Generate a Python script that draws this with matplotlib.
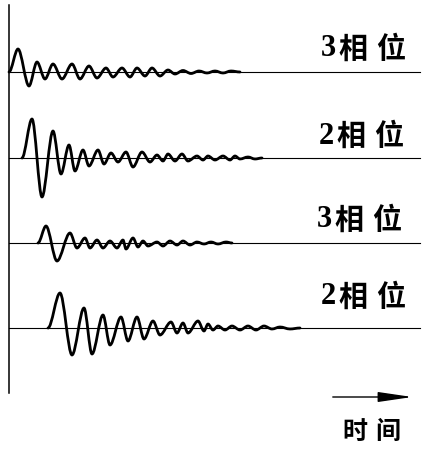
import matplotlib
matplotlib.use('Agg')
import matplotlib.pyplot as plt
from matplotlib.path import Path
from matplotlib.patches import PathPatch, FancyArrowPatch

plt.rcParams['font.family'] = ['Noto Sans CJK SC', 'DejaVu Sans']

# 各道波形的极值点（时间, 振幅）
t_1 = [0, 9, 20, 28, 36, 44, 53, 63, 71, 80, 88, 97, 104, 113, 121, 128, 136,
       143, 151, 159, 166, 174, 182, 190, 198, 206, 214, 222, 231]
a_1 = [0, 23, -14, 10, -7, 8, -7, 8, -7, 6, -6, 4, -5, 4, -5, 4, -4,
       4, -4, 2, -2, 1.5, -1.5, 1, -1, 1, -1, 1, 0]

t_2 = [13, 23, 33, 44, 52, 60, 66, 74, 80, 89, 95, 102, 109, 117, 124, 133, 141,
       148, 154, 159, 166, 173, 179, 188, 194, 199, 206, 214, 221, 226, 231, 239,
       246, 253]
a_2 = [0, 39, -39, 27, -16, 13, -13, 8, -8, 8, -6, 5, -4, 6, -9, 6, -4,
       3, -3, 4, -3, 4, -3, 2, -2, 2, -2, 2, -2, 2, -1, 1,
       -1, 0]

t_3 = [29, 37, 48, 61, 68, 76, 81, 88, 94, 101, 108, 114, 117, 124, 129, 134,
       139, 148, 154, 161, 168, 174, 181, 188, 195, 202, 209, 217, 223]
a_3 = [0, 17, -18, 10, -5, 5, -5, 3, -5, 2, -5, 3, -6, 5, -4, 2,
       -3, 1, -3, 2, -2, 2, -2, 1, -1, 1, -1, 1, 0]

t_4 = [39, 51, 63, 75, 83, 94, 101, 112, 119, 128, 135, 144, 151, 162, 168, 174,
       179, 189, 195, 199, 204, 209, 216, 223, 231, 239, 247, 255, 263, 271, 281,
       291]
a_4 = [0, 35, -27, 20, -26, 13, -17, 11, -13, 11, -11, 7, -7, 6, -5, 5,
       -5, 7, -3, 4, -2, 2, -2, 2, -2, 2, -2, 2, -1, 1, -1,
       0]

phases = ['3', '2', '3', '2']
suffix = ['相', '位']
xlabel = ['时', '间']

# 版面：每道的基线高度、标签位置
base_y = [379, 293, 208, 123]
label_dy = [24, 23, 24, 32]
label_x = [313, 311, 309, 313]
t_end = 411

num_font = dict(family=['Liberation Serif', 'Noto Sans CJK SC'],
                fontweight='bold', fontsize=22)
cjk_font = dict(family=['Noto Sans CJK SC', 'DejaVu Sans'],
                fontweight='bold', fontsize=21)


def wave_path(t, a, y0):
    # 相邻极值之间用水平切线的三次贝塞尔曲线连接
    verts = [(t[0], y0 + a[0])]
    codes = [Path.MOVETO]
    for i in range(1, len(t)):
        dt = t[i] - t[i - 1]
        verts += [(t[i - 1] + dt / 3, y0 + a[i - 1]),
                  (t[i] - dt / 3, y0 + a[i]),
                  (t[i], y0 + a[i])]
        codes += [Path.CURVE4] * 3
    return Path(verts, codes)


fig = plt.figure(figsize=(4.26, 4.52), dpi=100)
ax = fig.add_axes([0, 0, 1, 1])
ax.set_xlim(-9, 417)
ax.set_ylim(0, 452)
ax.axis('off')

# 纵轴
ax.plot([0, 0], [58, 446], color='black', lw=1.1)

traces = [(t_1, a_1), (t_2, a_2), (t_3, a_3), (t_4, a_4)]
for (t, a), y0, num, dy, lx in zip(traces, base_y, phases, label_dy, label_x):
    ax.plot([0, t_end], [y0, y0], color='black', lw=0.8)
    ax.add_patch(PathPatch(wave_path(t, a, y0), fill=False, color='black',
                           lw=2.0, joinstyle='round', capstyle='round'))
    # 字间距较宽，逐字放置
    ax.text(lx + 6, y0 + dy, num, ha='center', va='center', **num_font)
    ax.text(lx + 31, y0 + dy, suffix[0], ha='center', va='center', **cjk_font)
    ax.text(lx + 69, y0 + dy, suffix[1], ha='center', va='center', **cjk_font)

# 时间箭头
ax.add_patch(FancyArrowPatch((321, 54), (406, 54),
                             arrowstyle='-|>,head_length=1.5,head_width=0.22',
                             mutation_scale=14, lw=1.0, color='black'))
ax.text(346, 20, xlabel[0], ha='center', va='center',
        **dict(cjk_font, fontsize=18))
ax.text(379, 20, xlabel[1], ha='center', va='center',
        **dict(cjk_font, fontsize=18))

fig.savefig('out.png', dpi=100)
